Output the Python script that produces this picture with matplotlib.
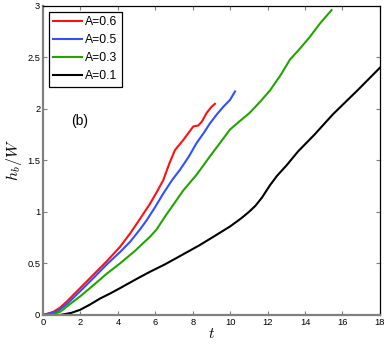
import matplotlib
matplotlib.use('Agg')
from matplotlib import pyplot as plt

plt.rcParams['font.family'] = ['Liberation Sans', 'DejaVu Sans']
plt.rcParams['mathtext.fontset'] = 'cm'

# A=0.6
t_06 = [0, 0.55, 0.9, 1.27, 1.98, 2.69, 3.4, 4.11, 4.65, 5.1, 5.72, 6.1, 6.43, 6.75, 7.05, 7.5, 8.03, 8.3, 8.5, 8.74, 9.0, 9.19]
h_06 = [0, 0.03, 0.07, 0.13, 0.26, 0.39, 0.52, 0.66, 0.79, 0.91, 1.08, 1.2, 1.31, 1.47, 1.60, 1.70, 1.83, 1.84, 1.88, 1.96, 2.02, 2.05]
# A=0.5
t_05 = [0, 0.73, 1.3, 1.98, 2.7, 3.4, 4.11, 4.65, 5.18, 5.54, 6.0, 6.43, 6.9, 7.32, 7.8, 8.21, 8.6, 8.92, 9.3, 9.63, 10.0, 10.26]
h_05 = [0, 0.03, 0.11, 0.23, 0.36, 0.49, 0.61, 0.71, 0.83, 0.92, 1.05, 1.18, 1.31, 1.41, 1.54, 1.67, 1.77, 1.86, 1.95, 2.02, 2.09, 2.17]
# A=0.3
t_03 = [0, 0.5, 0.91, 1.4, 1.98, 2.7, 3.4, 4.11, 4.9, 5.72, 6.07, 6.5, 7.0, 7.5, 8.2, 8.92, 9.46, 9.99, 10.5, 11.03, 11.6, 12.13, 12.7, 13.2, 13.7, 14.26, 14.8, 15.42]
h_03 = [0, 0.005, 0.03, 0.10, 0.18, 0.29, 0.40, 0.50, 0.62, 0.76, 0.83, 0.95, 1.08, 1.21, 1.36, 1.54, 1.67, 1.80, 1.88, 1.96, 2.07, 2.18, 2.33, 2.48, 2.58, 2.70, 2.83, 2.96]
# A=0.1
t_01 = [0, 0.9, 1.5, 1.98, 2.5, 3.05, 3.6, 4.11, 5.0, 5.72, 6.5, 7.3, 8.39, 9.2, 10.0, 10.6, 11.0, 11.35, 11.7, 12.13, 12.5, 13.0, 13.64, 14.5, 15.5, 16.8, 18.0]
h_01 = [0, 0.0, 0.02, 0.05, 0.10, 0.16, 0.21, 0.26, 0.35, 0.42, 0.49, 0.57, 0.68, 0.77, 0.86, 0.94, 1.0, 1.06, 1.14, 1.26, 1.35, 1.45, 1.59, 1.75, 1.95, 2.18, 2.40]

series = [
    (t_06, h_06, '#ff1010', 'A=0.6'),
    (t_05, h_05, '#3050ff', 'A=0.5'),
    (t_03, h_03, '#22a400', 'A=0.3'),
    (t_01, h_01, 'black', 'A=0.1'),
]

fig = plt.figure(figsize=(3.88, 3.46), dpi=100)
ax = fig.add_axes([0.1108, 0.0896, 0.979 - 0.1108, 0.9827 - 0.0896])

for t, h, c, lab in series:
    ax.plot(t, h, color=c, lw=1.5, label=lab, solid_joinstyle='round')

ax.set_xlim(0, 18)
ax.set_ylim(0, 3)
ax.set_xticks(range(0, 19, 2))
ax.set_yticks([0, 0.5, 1, 1.5, 2, 2.5, 3])
ax.set_yticklabels(['0', '0.5', '1', '1.5', '2', '2.5', '3'])
ax.tick_params(direction='in', length=3, width=0.8, labelsize=6.7, top=True, right=True,
               color='#808080', pad=2)
for s in ['left', 'bottom']:
    ax.spines[s].set_color('#808080')
    ax.spines[s].set_linewidth(1.6)
for s in ['top', 'right']:
    ax.spines[s].set_linewidth(0.9)

ax.set_xlabel('$t$', fontsize=11, labelpad=0)
ax.set_ylabel('$h_b/W$', fontsize=11.5, labelpad=2)
ax.text(1.98, 1.88, '(b)', fontsize=10, ha='center', va='center')

leg = ax.legend(loc='upper left', fontsize=8.7, fancybox=False, framealpha=1,
                edgecolor='black', handlelength=2.35, borderaxespad=0.5,
                labelspacing=0.5, handletextpad=0.3, borderpad=0.35)
leg.get_frame().set_linewidth(0.9)

plt.savefig('out.png', dpi=100)
